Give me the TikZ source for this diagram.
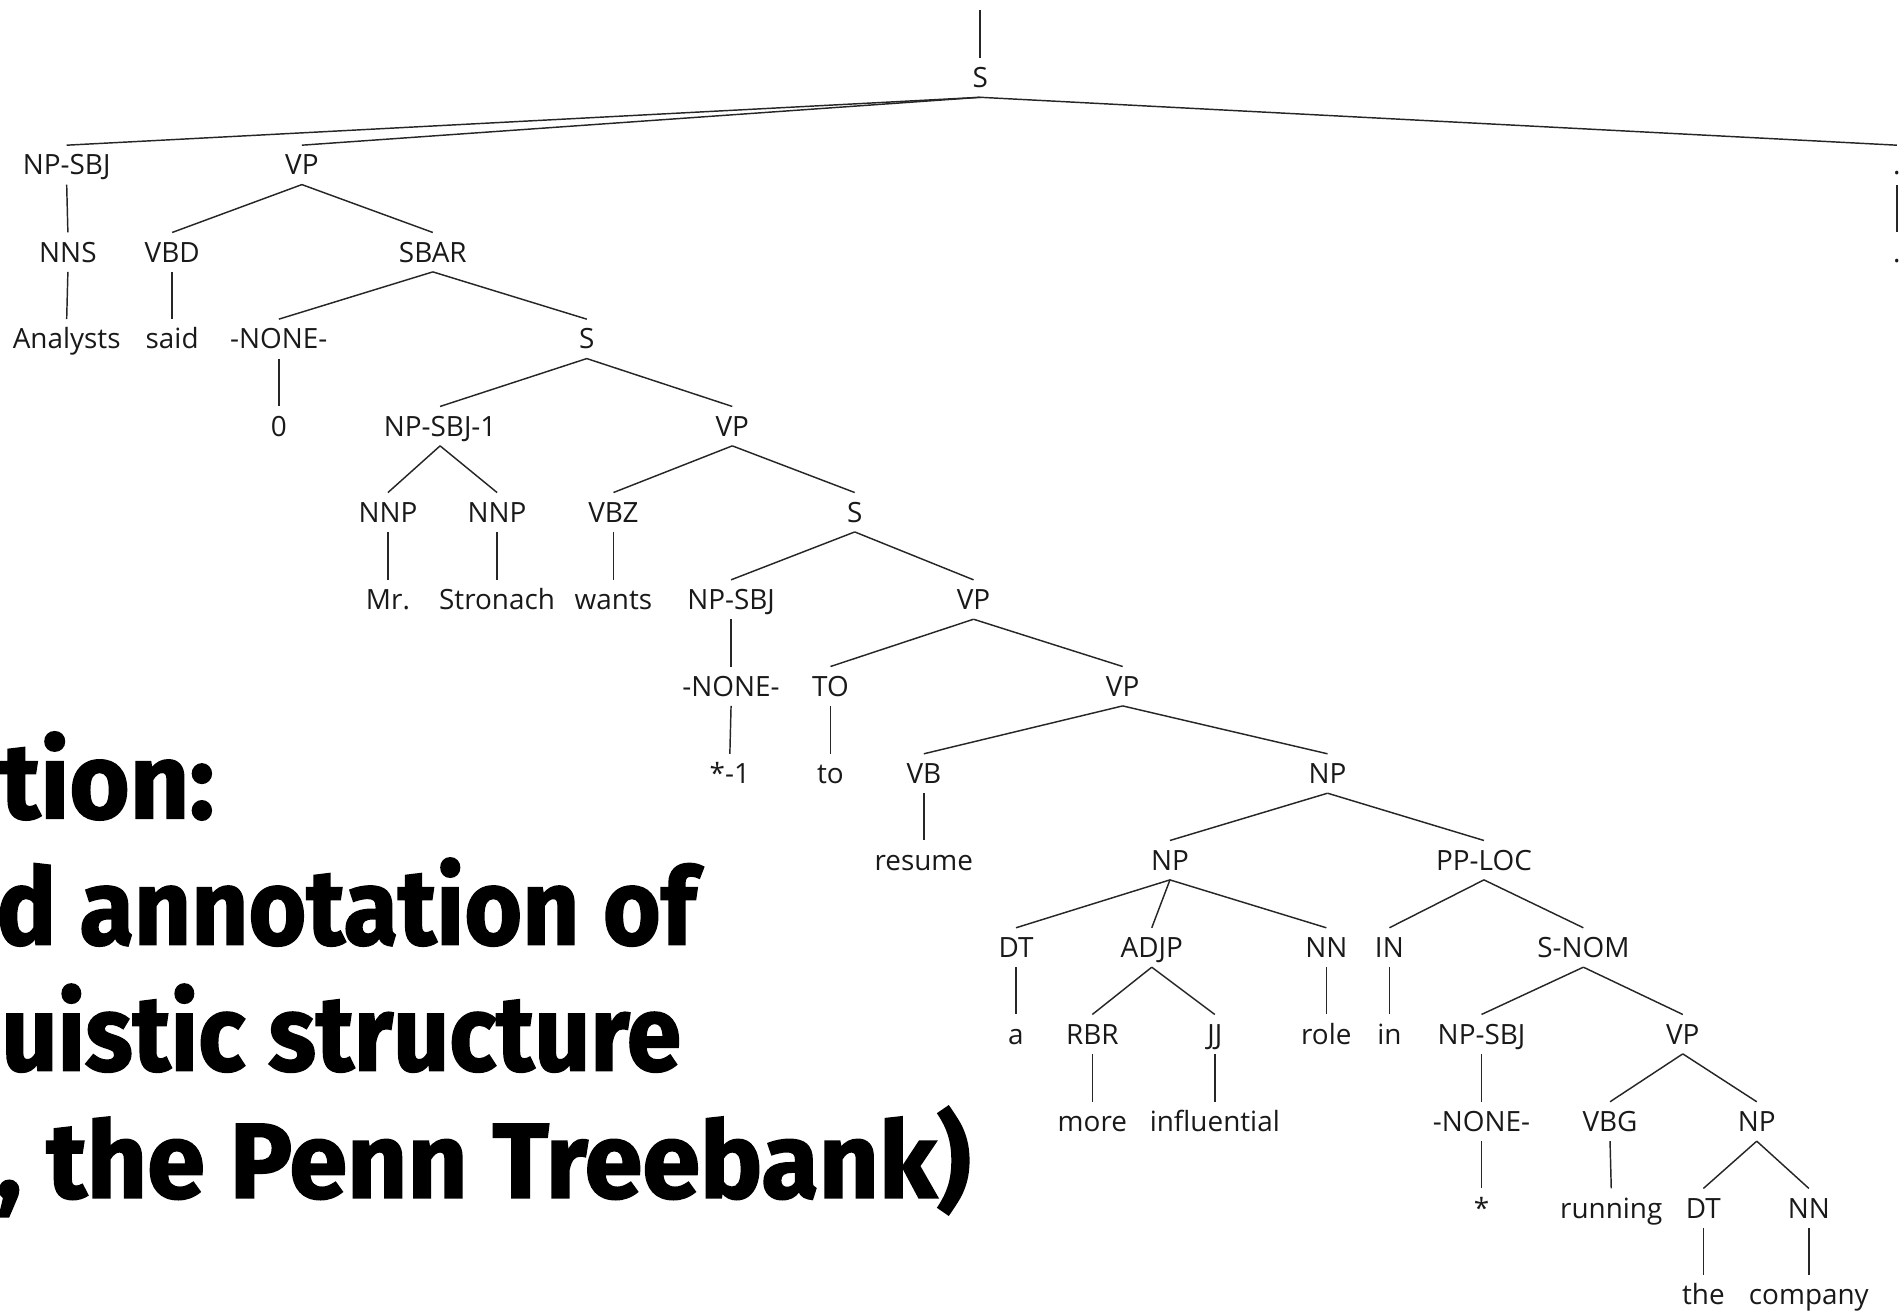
\documentclass[tikz,border=0pt]{standalone}
\usepackage{fontspec}
\newfontfamily\treefont{Open Sans}
\newfontfamily\titlefont{Fira Sans}[BoldFeatures={FakeBold=1.6}]
\begin{document}
\begin{tikzpicture}[x=1pt,y=-1pt,
  lbl/.style={font=\treefont\fontsize{23}{28}\selectfont, inner sep=0pt,
    text height=16.5pt, text depth=0pt, outer ysep=8pt, text=black!90},
  br/.style={line width=1.2pt, black!85},
  ttl/.style={font=\titlefont\fontsize{88}{100}\selectfont\bfseries,
    inner sep=0pt, anchor=base west, transform shape}]
\useasboundingbox (0,0) rectangle (1568,1082);
\clip (0,0) rectangle (1568,1082);

% heading lines, cut off at the left edge
\node[ttl, xscale=0.97] (t1) at (0,675) {tion:};
\node[ttl, xscale=0.93] (t2) at (-3,779) {d annotation of};
\node[ttl, xscale=0.92] (t3) at (1,883) {uistic structure};
\node[ttl, xscale=0.98] (t4) at (-3,988) {, the Penn Treebank)};

% parse tree nodes
\node[lbl] (sA) at (808.5,64) {S};
\node[lbl] (npsbj) at (55,136) {NP-SBJ};
\node[lbl] (vp1) at (249,136) {VP};
\node[lbl] (per) at (1564.5,136) {.};
\node[lbl] (nns) at (56,208) {NNS};
\node[lbl] (vbd) at (142,208) {VBD};
\node[lbl] (sbar) at (357,208) {SBAR};
\node[lbl] (perw) at (1564.5,208) {.};
\node[lbl] (analysts) at (55,279.5) {Analysts};
\node[lbl] (said) at (142,279.5) {said};
\node[lbl] (none1) at (230,279.5) {-NONE-};
\node[lbl] (s2) at (484,279.5) {S};
\node[lbl] (zero) at (230,351.5) {0};
\node[lbl] (npsbj1) at (363,351.5) {NP-SBJ-1};
\node[lbl] (vp2) at (604,351.5) {VP};
\node[lbl] (nnp1) at (320,422.5) {NNP};
\node[lbl] (nnp2) at (410,422.5) {NNP};
\node[lbl] (vbz) at (506,422.5) {VBZ};
\node[lbl] (s3) at (705,422.5) {S};
\node[lbl] (mr) at (320,494.5) {Mr.};
\node[lbl] (stronach) at (410,494.5) {Stronach};
\node[lbl] (wants) at (506,494.5) {wants};
\node[lbl] (npsbj2) at (603,494.5) {NP-SBJ};
\node[lbl] (vp3) at (803,494.5) {VP};
\node[lbl] (none2) at (603,566) {-NONE-};
\node[lbl] (to) at (685,566) {TO};
\node[lbl] (vp4) at (926,566) {VP};
\node[lbl] (star1) at (602,638) {*-1};
\node[lbl] (tow) at (685,638) {to};
\node[lbl] (vb) at (762,638) {VB};
\node[lbl] (np1) at (1095,638) {NP};
\node[lbl] (resume) at (762,709.5) {resume};
\node[lbl] (np2) at (965,709.5) {NP};
\node[lbl] (pploc) at (1224,709.5) {PP-LOC};
\node[lbl] (dt1) at (838,781.5) {DT};
\node[lbl] (adjp) at (950,781.5) {ADJP};
\node[lbl] (nn1) at (1094,781.5) {NN};
\node[lbl] (in) at (1146,781.5) {IN};
\node[lbl] (snom) at (1306,781.5) {S-NOM};
\node[lbl] (a) at (838,853) {a};
\node[lbl] (rbr) at (901,853) {RBR};
\node[lbl] (jj) at (1002,853) {JJ};
\node[lbl] (role) at (1094,853) {role};
\node[lbl] (inw) at (1146,853) {in};
\node[lbl] (npsbj3) at (1222,853) {NP-SBJ};
\node[lbl] (vp5) at (1388,853) {VP};
\node[lbl] (more) at (901,925) {more};
\node[lbl] (influential) at (1002,925) {influential};
\node[lbl] (none3) at (1222,925) {-NONE-};
\node[lbl] (vbg) at (1328,925) {VBG};
\node[lbl] (np3) at (1449,925) {NP};
\node[lbl] (star2) at (1222,996.5) {*};
\node[lbl] (running) at (1329,996.5) {running};
\node[lbl] (dt2) at (1405,996.5) {DT};
\node[lbl] (nn2) at (1492,996.5) {NN};
\node[lbl] (the) at (1405,1068) {the};
\node[lbl] (company) at (1492,1068) {company};

% branch from above the root
\coordinate (top) at (808.5,8);
\draw[br] (top) -- (sA.north);

% branches
\foreach \p/\c in {sA/npsbj, sA/vp1, sA/per, per/perw,
  npsbj/nns, nns/analysts, vp1/vbd, vp1/sbar, vbd/said,
  sbar/none1, sbar/s2, none1/zero,
  s2/npsbj1, s2/vp2, npsbj1/nnp1, npsbj1/nnp2, nnp1/mr, nnp2/stronach,
  vp2/vbz, vp2/s3, vbz/wants,
  s3/npsbj2, s3/vp3, npsbj2/none2, none2/star1,
  vp3/to, vp3/vp4, to/tow,
  vp4/vb, vp4/np1, vb/resume,
  np1/np2, np1/pploc,
  np2/dt1, np2/adjp, np2/nn1, dt1/a, adjp/rbr, adjp/jj,
  rbr/more, jj/influential, nn1/role,
  pploc/in, pploc/snom, in/inw,
  snom/npsbj3, snom/vp5, npsbj3/none3, none3/star2,
  vp5/vbg, vp5/np3, vbg/running,
  np3/dt2, np3/nn2, dt2/the, nn2/company}
  \draw[br] (\p.south) -- (\c.north);
\end{tikzpicture}
\end{document}
